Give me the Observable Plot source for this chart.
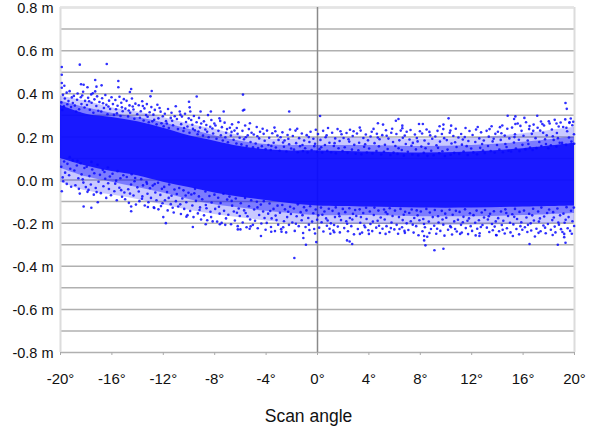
<!DOCTYPE html>
<html><head><meta charset="utf-8">
<style>html,body{margin:0;padding:0;background:#fff}svg{display:block}</style>
<script src="https://cdn.jsdelivr.net/npm/d3@7"></script>
<script src="https://cdn.jsdelivr.net/npm/@observablehq/plot@0.6"></script>
</head><body><div id="c"></div>
<script>
const xTicks = [-20,-16,-12,-8,-4,0,4,8,12,16,20];
const yLabels = [-0.8,-0.6,-0.4,-0.2,0,0.2,0.4,0.6,0.8];
const gridValues = [-0.8,-0.7,-0.6,-0.5,-0.4,-0.3,-0.2,-0.1,0,0.1,0.2,0.3,0.4,0.5,0.6,0.7,0.8];
const bandAngles = [-20,-18,-16,-14,-12,-10,-8,-6,-4,-2,0,4,8,12,16,20];
const coreTop    = [.345,.305,.29,.27,.24,.205,.18,.155,.14,.135,.135,.13,.125,.13,.145,.17];
const coreBottom = [.10,.065,.04,.02,-.01,-.035,-.06,-.08,-.095,-.11,-.12,-.125,-.13,-.13,-.125,-.12];
const midTop     = [.365,.335,.31,.29,.265,.235,.205,.18,.165,.16,.16,.16,.155,.16,.175,.2];
const midBottom  = [.055,.015,-.01,-.035,-.06,-.09,-.115,-.13,-.145,-.155,-.165,-.165,-.17,-.17,-.165,-.155];
const haloTop    = [.39,.365,.335,.315,.29,.26,.235,.205,.19,.19,.195,.195,.19,.195,.215,.245];
const haloBottom = [-.01,-.05,-.07,-.09,-.115,-.14,-.16,-.175,-.19,-.2,-.205,-.205,-.21,-.21,-.205,-.2];
const outliers = [[-19.9,.524],[-19.9,.488],[-18.5,.535],[-16.4,.538],[-17.3,.464],[-15.5,.459],[-19.9,.45],[-19.7,.437],[-19.9,.428],[-18.4,.444],[-18.2,.442],[-17.9,.43],[-17.2,.433],[-16.8,.439],[-15.5,.43],[-17.3,.411],[-14.5,.422],[-14.6,.408],[-12.9,.413],[-13,.388],[-9.4,.387],[-5.8,.396],[-10,.363],[-9.95,.337],[-9.9,.318],[-9.1,.318],[-5.7,.326],[-5.8,.322],[-8.3,.318],[-7.3,.318],[-2.2,.318],
[19.3,.357],[19.4,.33],[.2,.297],[14.8,.298],[15.4,.295],[16.1,.288],[17.1,.298],[15.3,.283],[15.4,.26],[10.2,.286],[4.7,.263],[5.1,.257],[6.1,.275],[6.3,.283],[6.6,.252],[6.6,.24],[7.9,.26],[8.2,.26],[9.5,.249],[9.8,.257],[10.4,.252],[17.5,.26],[18,.272],[18.6,.262],[19.6,.265],[19.9,.27],[16.5,.25],[14.2,.245],
[9.1,-.326],[9.8,-.319],[-1.8,-.362],[8.4,-.303],[16.5,-.297],[18.7,-.3],[19.3,-.291],[2.7,-.297],[2.3,-.28],[2.5,-.285],[-.9,-.3],[-.1,-.288],[-1.1,-.269],[19.2,-.25],[19.2,-.265],[1,-.249],[1.3,-.242],[-4.4,-.26],[-3.6,-.24],[-6.2,-.229],[-6,-.229],[-9.7,-.218],[-11.8,-.2],[-12,-.172],[-18.2,-.123],[-17.6,-.129],[-17.1,-.103],[-14.5,-.123],[-14.5,-.145],[-19.9,-.052],[-18.5,-.063],[-17.9,-.055],[-13.2,-.125],[-12.7,-.13],[5.3,-.25],[6.8,-.245],[8.3,-.26],[8.3,-.28],[11.1,-.25],[12.6,-.26],[13.9,-.255],[15.2,-.26],[17.2,-.245],[18.3,-.255],[4,-.25],[3.3,-.25],[-2.8,-.24],[-7.6,-.205],[-8.7,-.205],[-10.2,-.17],[-5.2,-.215]];
const upperFringe = [
[-19.93,.36],[-19.81,.395],[-19.74,.342],[-19.66,.378],[-19.52,.405],[-19.47,.351],[-19.38,.366],[-19.29,.412],[-19.18,.338],[-19.12,.383],[-19.04,.357],[-19.86,.325],
[-18.96,.39],[-18.88,.345],[-18.71,.372],[-18.67,.401],[-18.55,.328],[-18.42,.384],[-18.37,.352],[-18.24,.409],[-18.13,.336],[-18.09,.367],[-18.78,.318],[-18.31,.392],
[-17.94,.348],[-17.85,.381],[-17.72,.326],[-17.61,.397],[-17.58,.358],[-17.44,.312],[-17.36,.374],[-17.21,.343],[-17.15,.388],[-17.06,.321],[-17.49,.402],[-17.77,.365],
[-16.97,.362],[-16.83,.318],[-16.76,.379],[-16.62,.334],[-16.51,.394],[-16.43,.349],[-16.34,.305],[-16.22,.368],[-16.14,.329],[-16.03,.384],[-16.69,.356],[-16.27,.341],
[-15.92,.352],[-15.84,.302],[-15.73,.371],[-15.68,.328],[-15.56,.344],[-15.41,.386],[-15.33,.297],[-15.27,.358],[-15.16,.319],[-15.07,.375],[-15.61,.309],[-15.22,.337],
[-14.95,.331],[-14.86,.367],[-14.74,.295],[-14.63,.346],[-14.58,.312],[-14.44,.378],[-14.32,.327],[-14.25,.284],[-14.17,.354],[-14.03,.305],[-14.69,.322],[-14.38,.341],
[-13.91,.347],[-13.82,.289],[-13.75,.319],[-13.64,.365],[-13.53,.276],[-13.47,.332],[-13.34,.301],[-13.28,.352],[-13.13,.268],[-13.06,.314],[-13.59,.343],[-13.22,.293],
[-12.93,.338],[-12.85,.272],[-12.77,.303],[-12.66,.325],[-12.52,.258],[-12.46,.349],[-12.38,.286],[-12.21,.317],[-12.14,.263],[-12.04,.296],[-12.71,.279],[-12.29,.334],
[-11.97,.249],[-11.88,.307],[-11.79,.273],[-11.63,.329],[-11.57,.241],[-11.42,.288],[-11.36,.312],[-11.24,.254],[-11.11,.296],[-11.03,.342],[-11.72,.262],[-11.31,.275],
[-10.94,.283],[-10.86,.236],[-10.72,.318],[-10.61,.259],[-10.55,.294],[-10.43,.227],[-10.31,.307],[-10.23,.269],[-10.12,.248],[-10.02,.286],[-10.67,.303],[-10.38,.241],
[-9.96,.219],[-9.83,.278],[-9.74,.256],[-9.62,.297],[-9.54,.231],[-9.41,.268],[-9.33,.212],[-9.22,.288],[-9.14,.243],[-9.05,.262],[-9.69,.237],[-9.27,.225],
[-8.91,.206],[-8.84,.272],[-8.73,.234],[-8.65,.255],[-8.52,.301],[-8.47,.198],[-8.35,.247],[-8.26,.278],[-8.12,.216],[-8.03,.262],[-8.59,.224],[-8.18,.239],
[-7.94,.253],[-7.86,.191],[-7.71,.228],[-7.63,.286],[-7.52,.207],[-7.44,.245],[-7.37,.183],[-7.23,.266],[-7.11,.219],[-7.04,.236],[-7.57,.274],[-7.17,.198],
[-6.97,.175],[-6.82,.242],[-6.74,.206],[-6.65,.258],[-6.53,.187],[-6.46,.229],[-6.31,.169],[-6.22,.214],[-6.15,.268],[-6.06,.196],[-6.69,.223],[-6.28,.241],
[-5.92,.165],[-5.84,.228],[-5.72,.189],[-5.63,.253],[-5.51,.158],[-5.43,.207],[-5.34,.236],[-5.21,.176],[-5.13,.219],[-5.02,.152],[-5.58,.198],[-5.26,.263],
[-4.96,.211],[-4.81,.169],[-4.73,.246],[-4.62,.148],[-4.54,.193],[-4.47,.224],[-4.33,.157],[-4.27,.238],[-4.11,.182],[-4.04,.143],[-4.68,.203],[-4.19,.214],
[-3.93,.229],[-3.82,.162],[-3.76,.196],[-3.64,.139],[-3.52,.217],[-3.41,.173],[-3.35,.243],[-3.24,.151],[-3.12,.206],[-3.03,.186],[-3.59,.158],[-3.28,.226],
[-2.95,.136],[-2.87,.198],[-2.73,.221],[-2.61,.154],[-2.56,.183],[-2.42,.132],[-2.33,.209],[-2.21,.166],[-2.14,.234],[-2.05,.146],[-2.68,.174],[-2.27,.191],
[-1.92,.204],[-1.83,.141],[-1.71,.229],[-1.66,.171],[-1.54,.129],[-1.43,.194],[-1.36,.157],[-1.22,.216],[-1.13,.134],[-1.04,.183],[-1.58,.238],[-1.17,.162],
[-.96,.147],[-.84,.208],[-.77,.128],[-.63,.176],[-.54,.224],[-.46,.139],[-.32,.191],[-.25,.157],[-.13,.233],[-.04,.131],[-.68,.199],[-.19,.168],
[.04,.213],[.16,.143],[.23,.186],[.37,.127],[.44,.228],[.58,.162],[.63,.198],[.76,.135],[.82,.241],[.93,.173],[.29,.152],[.71,.207],
[1.06,.129],[1.14,.219],[1.27,.158],[1.38,.193],[1.43,.124],[1.56,.236],[1.64,.147],[1.72,.181],[1.87,.212],[1.95,.134],[1.33,.171],[1.79,.226],
[2.03,.195],[2.12,.152],[2.26,.218],[2.34,.126],[2.47,.178],[2.53,.233],[2.68,.141],[2.74,.204],[2.86,.163],[2.97,.122],[2.41,.189],[2.81,.226],
[3.07,.216],[3.18,.138],[3.24,.173],[3.36,.229],[3.42,.119],[3.57,.195],[3.63,.154],[3.76,.211],[3.84,.127],[3.93,.184],[3.29,.243],[3.71,.166],
[4.02,.146],[4.13,.202],[4.28,.123],[4.36,.237],[4.44,.171],[4.59,.134],[4.62,.214],[4.78,.156],[4.83,.189],[4.96,.118],[4.22,.224],[4.69,.197],
[5.04,.208],[5.17,.131],[5.25,.163],[5.33,.231],[5.46,.144],[5.52,.192],[5.67,.116],[5.74,.219],[5.88,.176],[5.92,.127],[5.38,.205],[5.81,.238],
[6.06,.158],[6.14,.213],[6.23,.121],[6.37,.184],[6.48,.229],[6.56,.139],[6.64,.196],[6.72,.113],[6.87,.167],[6.94,.224],[6.31,.147],[6.79,.206],
[7.03,.131],[7.16,.188],[7.24,.232],[7.38,.118],[7.42,.172],[7.58,.211],[7.66,.142],[7.73,.195],[7.84,.114],[7.97,.226],[7.31,.159],[7.79,.179],
[8.08,.155],[8.14,.216],[8.27,.126],[8.33,.183],[8.49,.234],[8.56,.112],[8.64,.168],[8.77,.207],[8.85,.136],[8.93,.191],[8.41,.147],[8.71,.223],
[9.04,.115],[9.17,.202],[9.26,.161],[9.34,.228],[9.47,.124],[9.53,.178],[9.68,.213],[9.72,.133],[9.86,.194],[9.91,.111],[9.38,.149],[9.79,.236],
[10.06,.185],[10.12,.141],[10.29,.219],[10.36,.117],[10.43,.169],[10.57,.204],[10.64,.126],[10.76,.238],[10.82,.153],[10.97,.197],[10.34,.229],[10.71,.175],
[11.03,.121],[11.18,.213],[11.24,.164],[11.37,.132],[11.46,.199],[11.52,.241],[11.69,.116],[11.74,.181],[11.83,.227],[11.96,.146],[11.31,.188],[11.61,.157],
[12.07,.209],[12.13,.128],[12.28,.176],[12.34,.234],[12.42,.119],[12.59,.193],[12.66,.149],[12.73,.221],[12.88,.137],[12.94,.183],[12.47,.246],[12.81,.167],
[13.02,.125],[13.16,.228],[13.27,.158],[13.33,.201],[13.48,.134],[13.55,.249],[13.63,.179],[13.79,.127],[13.84,.214],[13.97,.162],[13.39,.236],[13.71,.191],
[14.04,.224],[14.15,.141],[14.26,.186],[14.38,.253],[14.43,.129],[14.57,.206],[14.62,.167],[14.77,.238],[14.86,.136],[14.93,.193],[14.31,.217],[14.71,.153],
[15.06,.132],[15.14,.243],[15.29,.174],[15.37,.212],[15.44,.146],[15.58,.262],[15.67,.187],[15.72,.134],[15.88,.228],[15.95,.163],[15.33,.199],[15.79,.251],
[16.03,.205],[16.18,.142],[16.23,.268],[16.36,.183],[16.47,.236],[16.54,.151],[16.68,.214],[16.74,.139],[16.82,.257],[16.97,.194],[16.41,.167],[16.79,.228],
[17.04,.148],[17.13,.242],[17.26,.176],[17.39,.271],[17.42,.158],[17.56,.219],[17.63,.253],[17.78,.167],[17.84,.207],[17.96,.147],[17.33,.229],[17.71,.189],
[18.07,.262],[18.16,.161],[18.24,.234],[18.38,.186],[18.46,.279],[18.59,.155],[18.63,.218],[18.77,.248],[18.85,.173],[18.92,.267],[18.31,.203],[18.71,.194],
[19.03,.172],[19.12,.246],[19.28,.281],[19.34,.163],[19.43,.226],[19.57,.197],[19.62,.268],[19.76,.178],[19.83,.254],[19.96,.212],[19.37,.242],[19.71,.285],[19.98,.168]];
const lowerFringe = [
[-19.94,.061],[-19.83,.012],[-19.72,.086],[-19.64,.034],[-19.51,-.018],[-19.46,.075],[-19.33,.022],[-19.24,.052],[-19.17,-.031],[-19.05,.091],[-19.79,-.006],[-19.28,.106],
[-18.92,.044],[-18.84,-.024],[-18.73,.067],[-18.61,.008],[-18.57,-.041],[-18.43,.078],[-18.36,.026],[-18.22,-.012],[-18.14,.056],[-18.03,-.033],[-18.68,.089],[-18.27,.003],
[-17.96,.062],[-17.82,-.046],[-17.75,.018],[-17.64,-.021],[-17.53,.049],[-17.41,-.068],[-17.37,.031],[-17.26,-.037],[-17.12,.071],[-17.04,-.008],[-17.59,.084],[-17.19,-.056],
[-16.93,.024],[-16.86,-.061],[-16.71,.047],[-16.66,-.029],[-16.52,.006],[-16.44,-.083],[-16.31,.058],[-16.23,-.042],[-16.16,.016],[-16.07,-.071],[-16.58,.037],[-16.29,-.015],
[-15.95,.029],[-15.81,-.052],[-15.74,-.017],[-15.62,-.094],[-15.56,.041],[-15.42,-.036],[-15.34,.008],[-15.21,-.078],[-15.11,.022],[-15.03,-.058],[-15.67,-.003],[-15.28,-.047],
[-14.97,-.089],[-14.84,.014],[-14.73,-.043],[-14.68,-.106],[-14.51,-.021],[-14.46,.027],[-14.32,-.072],[-14.24,-.006],[-14.13,-.114],[-14.02,-.034],[-14.59,-.063],[-14.19,.009],
[-13.91,-.053],[-13.86,-.098],[-13.72,.004],[-13.63,-.076],[-13.58,-.025],[-13.44,-.118],[-13.31,-.009],[-13.23,-.064],[-13.16,-.103],[-13.04,-.038],[-13.66,-.087],[-13.27,-.017],
[-12.96,-.083],[-12.82,-.026],[-12.74,-.127],[-12.62,-.058],[-12.53,-.094],[-12.41,-.013],[-12.38,-.136],[-12.23,-.069],[-12.11,-.041],[-12.06,-.108],[-12.67,-.019],[-12.18,-.121],
[-11.93,-.032],[-11.87,-.094],[-11.71,-.056],[-11.66,-.141],[-11.54,-.021],[-11.42,-.112],[-11.36,-.073],[-11.27,-.129],[-11.13,-.044],[-11.02,-.098],[-11.58,-.083],[-11.19,-.151],
[-10.95,-.065],[-10.84,-.123],[-10.76,-.037],[-10.63,-.158],[-10.52,-.086],[-10.43,-.048],[-10.37,-.134],[-10.21,-.103],[-10.12,-.163],[-10.04,-.059],[-10.68,-.113],[-10.26,-.072],
[-9.91,-.144],[-9.82,-.067],[-9.74,-.118],[-9.65,-.172],[-9.53,-.041],[-9.46,-.097],[-9.31,-.155],[-9.23,-.076],[-9.14,-.127],[-9.06,-.183],[-9.59,-.062],[-9.18,-.139],
[-8.97,-.089],[-8.83,-.164],[-8.72,-.053],[-8.64,-.131],[-8.58,-.187],[-8.41,-.074],[-8.33,-.147],[-8.24,-.104],[-8.16,-.192],[-8.02,-.068],[-8.69,-.116],[-8.28,-.172],
[-7.96,-.134],[-7.81,-.193],[-7.73,-.082],[-7.62,-.156],[-7.54,-.107],[-7.46,-.199],[-7.32,-.064],[-7.27,-.143],[-7.12,-.178],[-7.03,-.091],[-7.67,-.124],[-7.18,-.208],
[-6.94,-.161],[-6.85,-.077],[-6.73,-.205],[-6.64,-.119],[-6.51,-.146],[-6.43,-.188],[-6.36,-.086],[-6.21,-.214],[-6.13,-.132],[-6.05,-.167],[-6.68,-.097],[-6.27,-.152],
[-5.97,-.108],[-5.82,-.197],[-5.71,-.141],[-5.64,-.083],[-5.52,-.219],[-5.45,-.168],[-5.33,-.122],[-5.24,-.183],[-5.16,-.094],[-5.03,-.208],[-5.59,-.153],[-5.28,-.226],
[-4.93,-.137],[-4.86,-.189],[-4.72,-.101],[-4.65,-.224],[-4.54,-.162],[-4.41,-.114],[-4.37,-.202],[-4.23,-.146],[-4.12,-.176],[-4.04,-.231],[-4.67,-.127],[-4.18,-.098],
[-3.95,-.199],[-3.84,-.156],[-3.73,-.109],[-3.62,-.218],[-3.57,-.178],[-3.42,-.134],[-3.31,-.237],[-3.26,-.165],[-3.11,-.119],[-3.06,-.207],[-3.68,-.144],[-3.19,-.186],
[-2.92,-.152],[-2.83,-.228],[-2.74,-.116],[-2.61,-.191],[-2.53,-.136],[-2.44,-.243],[-2.36,-.172],[-2.22,-.208],[-2.13,-.124],[-2.07,-.158],[-2.67,-.219],[-2.28,-.147],
[-1.96,-.197],[-1.84,-.132],[-1.77,-.236],[-1.62,-.168],[-1.53,-.113],[-1.46,-.214],[-1.31,-.149],[-1.23,-.187],[-1.12,-.246],[-1.05,-.126],[-1.68,-.203],[-1.17,-.163],
[-.93,-.218],[-.86,-.141],[-.72,-.176],[-.63,-.232],[-.57,-.122],[-.42,-.193],[-.33,-.154],[-.26,-.227],[-.14,-.137],[-.03,-.184],[-.67,-.207],[-.19,-.248],
[.06,-.164],[.13,-.221],[.27,-.128],[.32,-.196],[.46,-.239],[.54,-.146],[.67,-.178],[.73,-.212],[.88,-.133],[.94,-.226],[.38,-.161],[.79,-.188],
[1.04,-.201],[1.17,-.143],[1.23,-.234],[1.36,-.172],[1.42,-.127],[1.58,-.216],[1.66,-.156],[1.74,-.243],[1.83,-.186],[1.97,-.134],[1.29,-.209],[1.71,-.168],
[2.08,-.223],[2.16,-.149],[2.24,-.191],[2.37,-.238],[2.48,-.131],[2.52,-.176],[2.63,-.214],[2.76,-.157],[2.84,-.252],[2.93,-.139],[2.31,-.203],[2.71,-.183],
[3.02,-.167],[3.14,-.227],[3.28,-.136],[3.33,-.198],[3.47,-.244],[3.56,-.153],[3.64,-.211],[3.78,-.129],[3.82,-.181],[3.96,-.233],[3.38,-.172],[3.71,-.219],
[4.07,-.146],[4.12,-.204],[4.26,-.237],[4.38,-.162],[4.43,-.128],[4.57,-.221],[4.68,-.189],[4.74,-.142],[4.86,-.246],[4.92,-.174],[4.31,-.193],[4.79,-.212],
[5.06,-.226],[5.18,-.137],[5.23,-.183],[5.37,-.214],[5.44,-.158],[5.59,-.241],[5.62,-.131],[5.76,-.197],[5.84,-.167],[5.98,-.229],[5.31,-.149],[5.71,-.223],
[6.03,-.142],[6.16,-.208],[6.27,-.249],[6.34,-.172],[6.46,-.134],[6.58,-.219],[6.63,-.186],[6.77,-.236],[6.82,-.147],[6.94,-.201],[6.38,-.227],[6.71,-.161],
[7.07,-.232],[7.14,-.153],[7.26,-.191],[7.33,-.137],[7.48,-.244],[7.53,-.176],[7.68,-.214],[7.72,-.141],[7.86,-.256],[7.93,-.187],[7.41,-.207],[7.79,-.164],
[8.04,-.146],[8.17,-.238],[8.23,-.181],[8.36,-.219],[8.47,-.134],[8.54,-.263],[8.66,-.193],[8.74,-.151],[8.83,-.227],[8.97,-.172],[8.29,-.204],[8.71,-.246],
[9.08,-.212],[9.13,-.139],[9.24,-.249],[9.38,-.168],[9.42,-.197],[9.56,-.236],[9.67,-.143],[9.73,-.183],[9.88,-.258],[9.94,-.156],[9.31,-.226],[9.79,-.207],
[10.02,-.175],[10.16,-.231],[10.28,-.138],[10.33,-.214],[10.47,-.253],[10.52,-.161],[10.64,-.192],[10.77,-.143],[10.84,-.239],[10.93,-.184],[10.39,-.219],[10.71,-.227],
[11.06,-.148],[11.17,-.208],[11.23,-.244],[11.36,-.171],[11.48,-.136],[11.54,-.223],[11.67,-.189],[11.72,-.251],[11.86,-.154],[11.92,-.214],[11.31,-.196],[11.79,-.178],
[12.03,-.236],[12.14,-.163],[12.27,-.198],[12.38,-.142],[12.43,-.226],[12.56,-.187],[12.62,-.247],[12.78,-.151],[12.84,-.209],[12.96,-.174],[12.31,-.257],[12.71,-.218],
[13.04,-.139],[13.18,-.221],[13.26,-.183],[13.37,-.241],[13.43,-.157],[13.58,-.204],[13.64,-.233],[13.73,-.145],[13.87,-.192],[13.93,-.256],[13.33,-.168],[13.79,-.216],
[14.06,-.177],[14.13,-.238],[14.28,-.146],[14.34,-.209],[14.46,-.189],[14.57,-.248],[14.62,-.136],[14.74,-.224],[14.83,-.167],[14.98,-.198],[14.41,-.231],[14.69,-.153],
[15.02,-.243],[15.16,-.159],[15.24,-.206],[15.37,-.134],[15.48,-.227],[15.53,-.181],[15.69,-.252],[15.72,-.148],[15.86,-.196],[15.94,-.231],[15.31,-.171],[15.79,-.214],
[16.07,-.142],[16.14,-.219],[16.26,-.174],[16.33,-.241],[16.47,-.157],[16.59,-.201],[16.63,-.234],[16.78,-.133],[16.84,-.188],[16.92,-.262],[16.38,-.208],[16.71,-.164],
[17.04,-.226],[17.17,-.146],[17.23,-.193],[17.36,-.238],[17.42,-.128],[17.58,-.211],[17.64,-.169],[17.76,-.247],[17.87,-.153],[17.93,-.204],[17.31,-.178],[17.71,-.221],
[18.03,-.137],[18.16,-.231],[18.27,-.186],[18.34,-.149],[18.46,-.216],[18.52,-.243],[18.67,-.132],[18.74,-.197],[18.88,-.164],[18.95,-.228],[18.39,-.174],[18.79,-.207],
[19.06,-.241],[19.14,-.156],[19.23,-.198],[19.38,-.126],[19.47,-.224],[19.54,-.172],[19.66,-.236],[19.73,-.143],[19.84,-.191],[19.97,-.213],[19.31,-.184],[19.79,-.249],[19.95,-.128]];

const band = bandAngles.map((a,i)=>({a,ct:coreTop[i],cb:coreBottom[i],mt:midTop[i],mb:midBottom[i],ht:haloTop[i],hb:haloBottom[i]}));
const pts = [...upperFringe,...lowerFringe,...outliers];
const blue = "#0a0aff";
const fmt = v => (v<0?"-":"")+Math.abs(v).toFixed(1)+" m";
const smooth = "catmull-rom";

const chart = Plot.plot({
  width:592,height:429,marginLeft:60,marginRight:18,marginTop:7,marginBottom:77,
  style:{fontFamily:"'Liberation Sans',Arial,sans-serif",fontSize:"15px",color:"#111",background:"#fff"},
  x:{domain:[-20,20]},
  y:{domain:[-0.8,0.8]},
  marks:[
    Plot.ruleY(gridValues,{stroke:"#b0b0b0",strokeWidth:1.5}),
    Plot.ruleX([-20,20],{stroke:"#dcdcdc",strokeWidth:2}),
    Plot.ruleY([0.8],{stroke:"#e4e4e4",strokeWidth:2}),
    Plot.ruleX([0],{stroke:"#8a8a8a",strokeWidth:1.5}),
    Plot.areaY(band,{x:"a",y1:"hb",y2:"ht",fill:blue,fillOpacity:0.22,curve:smooth}),
    Plot.areaY(band,{x:"a",y1:"mb",y2:"mt",fill:blue,fillOpacity:0.4,curve:smooth}),
    Plot.areaY(band,{x:"a",y1:"cb",y2:"ct",fill:blue,fillOpacity:0.88,curve:smooth}),
    Plot.dot(pts,{x:d=>d[0],y:d=>d[1],r:1.3,fill:blue,fillOpacity:0.85,stroke:"none"}),
    Plot.axisY({ticks:yLabels,tickFormat:fmt,tickSize:0,tickPadding:7,label:null,anchor:"left",fontSize:14.5,dy:1}),
    Plot.axisX({ticks:xTicks,tickFormat:d=>d+"°",tickSize:3,tickPadding:18,stroke:"#aaa",label:null,anchor:"bottom",fontSize:15}),
    Plot.text(["Scan angle"],{frameAnchor:"bottom",dx:-9,dy:69,fontSize:17.5,fill:"#111"})
  ]
});
document.getElementById("c").append(chart);
</script></body></html>
